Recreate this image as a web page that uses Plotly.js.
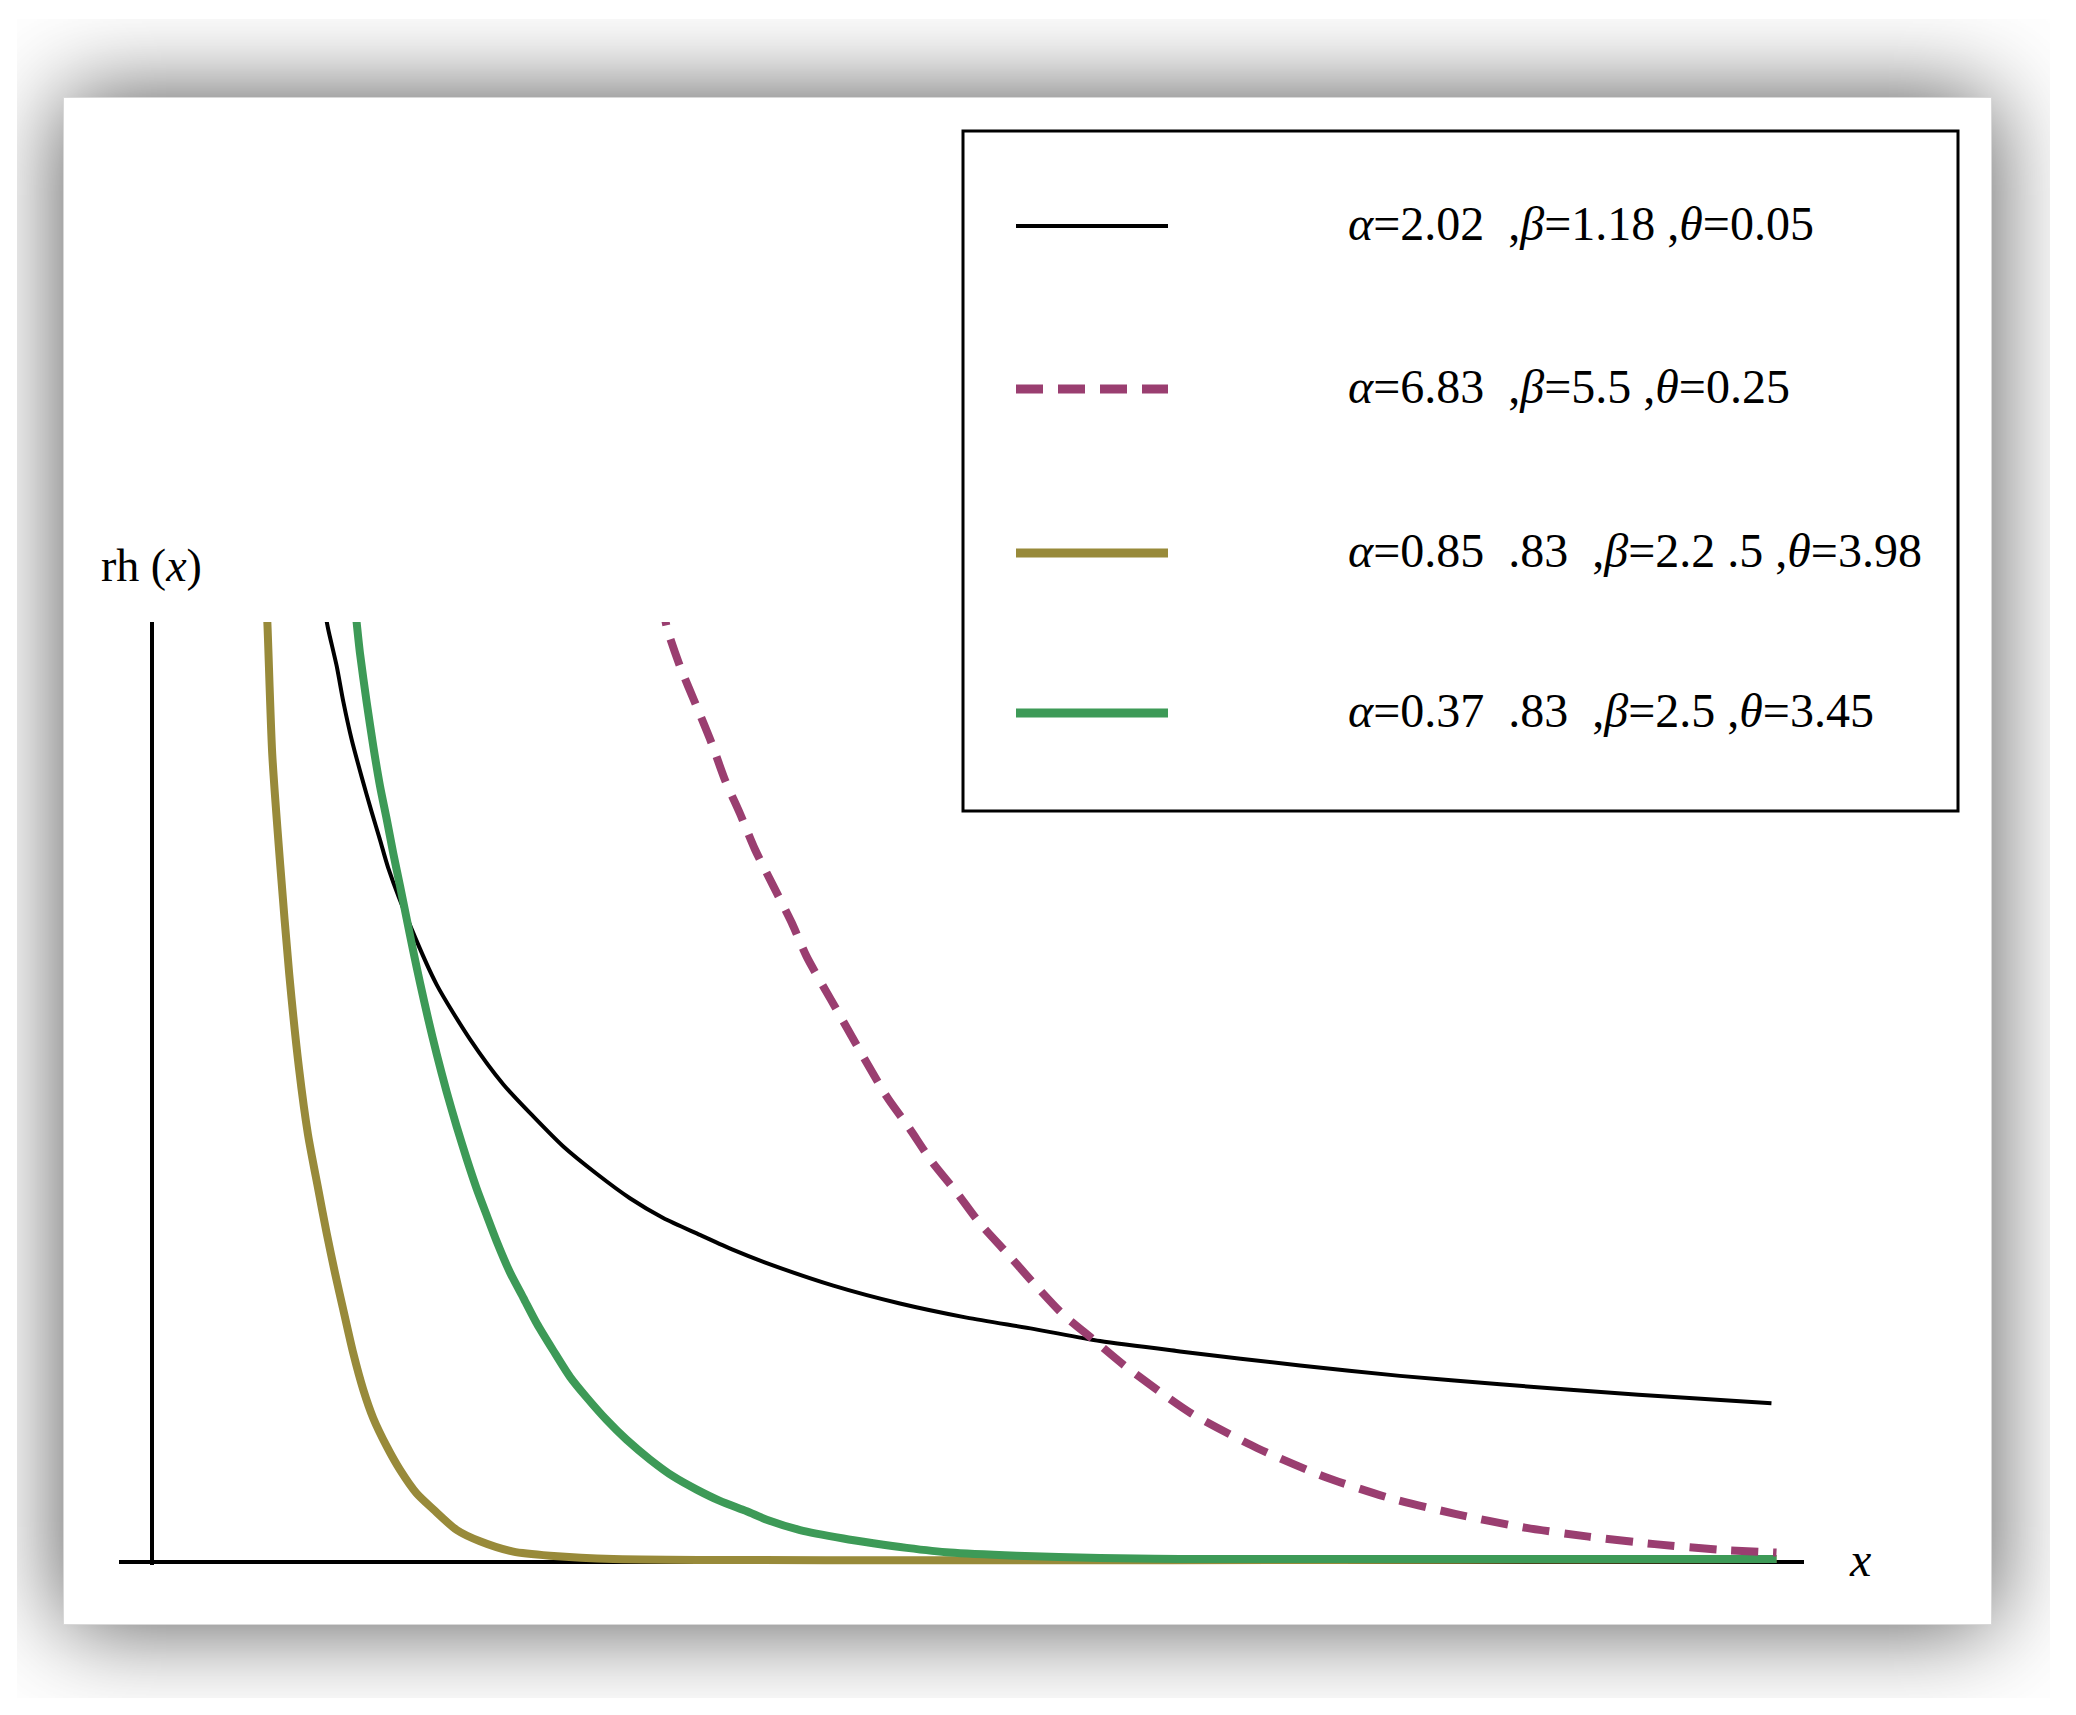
<!DOCTYPE html>
<html>
<head>
<meta charset="utf-8">
<script src="https://cdn.plot.ly/plotly-3.0.1.min.js"></script>
<style>
  html, body { margin: 0; padding: 0; background: #ffffff; }
  #frame { position: absolute; left: 17px; top: 19px; width: 2033px; height: 1679px; overflow: hidden; background: #ffffff; }
  #page { position: absolute; left: 46px; top: 78px; width: 1929px; height: 1528px; background: #ffffff;
          box-shadow: 0 0 90px rgba(0,0,0,0.68); border: 1px solid #d8d8d8; box-sizing: border-box; }
  #chart { position: absolute; left: 0; top: 0; width: 2076px; height: 1715px; }
</style>
</head>
<body>
<div id="frame"><div id="page"></div></div>
<div id="chart"></div>
<script>
// ---- data ----
var seriesNames = ["α=2.02 ,β=1.18 ,θ=0.05", "α=6.83 ,β=5.5 ,θ=0.25", "α=0.85 .83 ,β=2.2 .5 ,θ=3.98", "α=0.37 .83 ,β=2.5 ,θ=3.45"];
var legendLabels = [
  "<i>α</i>=2.02&nbsp;&nbsp;,<i>β</i>=1.18&nbsp;,<i>θ</i>=0.05",
  "<i>α</i>=6.83&nbsp;&nbsp;,<i>β</i>=5.5&nbsp;,<i>θ</i>=0.25",
  "<i>α</i>=0.85&nbsp;&nbsp;.83&nbsp;&nbsp;,<i>β</i>=2.2&nbsp;.5&nbsp;,<i>θ</i>=3.98",
  "<i>α</i>=0.37&nbsp;&nbsp;.83&nbsp;&nbsp;,<i>β</i>=2.5&nbsp;,<i>θ</i>=3.45"
];
var yAxisLabel = "rh (<i>x</i>)";
var xAxisLabel = "<i>x</i>";

var xBlack = [1.060, 1.085, 1.137, 1.178, 1.229, 1.291, 1.352, 1.404, 1.455, 1.599, 1.753, 1.958, 2.163, 2.347, 2.532, 2.737, 2.942, 3.147, 3.373, 3.578, 3.784, 4.194, 4.604, 5.015, 5.425, 5.836, 6.328, 7.067, 7.682, 8.298, 9.150, 9.969];
var yBlack = [10.15, 9.92, 9.53, 9.15, 8.75, 8.35, 7.98, 7.68, 7.38, 6.73, 6.14, 5.56, 5.08, 4.74, 4.42, 4.13, 3.87, 3.66, 3.48, 3.32, 3.18, 2.94, 2.75, 2.60, 2.48, 2.35, 2.24, 2.09, 1.98, 1.89, 1.78, 1.69];

var xPurple = [3.140, 3.168, 3.250, 3.353, 3.445, 3.527, 3.620, 3.712, 3.825, 3.938, 4.030, 4.180, 4.523, 4.656, 4.800, 4.954, 5.093, 5.261, 5.425, 5.610, 5.785, 5.979, 6.205, 6.398, 6.805, 7.213, 7.620, 8.028, 8.435, 8.843, 9.250, 9.658, 10.0];
var yPurple = [10.25, 9.95, 9.53, 9.10, 8.71, 8.32, 7.96, 7.58, 7.19, 6.80, 6.44, 5.98, 4.95, 4.63, 4.26, 3.93, 3.61, 3.29, 2.97, 2.63, 2.38, 2.10, 1.81, 1.58, 1.21, 0.91, 0.68, 0.51, 0.37, 0.27, 0.19, 0.13, 0.10];

var xOlive = [0.700, 0.710, 0.740, 0.790, 0.845, 0.905, 0.960, 1.024, 1.075, 1.127, 1.178, 1.239, 1.301, 1.362, 1.445, 1.527, 1.629, 1.732, 1.876, 2.019, 2.224, 2.450, 2.840, 10.0];
var yOlive = [10.30, 10.0, 8.6, 7.4, 6.25, 5.25, 4.55, 3.96, 3.50, 3.07, 2.68, 2.22, 1.83, 1.53, 1.23, 0.98, 0.73, 0.56, 0.34, 0.22, 0.11, 0.067, 0.032, 0.032];

var xGreen = [1.245, 1.260, 1.280, 1.322, 1.362, 1.404, 1.445, 1.485, 1.527, 1.568, 1.608, 1.650, 1.701, 1.753, 1.814, 1.876, 1.937, 1.999, 2.060, 2.122, 2.204, 2.286, 2.368, 2.470, 2.573, 2.676, 2.799, 2.922, 3.066, 3.209, 3.353, 3.496, 3.661, 3.784, 3.989, 4.256, 4.440, 4.646, 4.912, 5.323, 5.836, 6.328, 10.0];
var yGreen = [10.24, 9.99, 9.67, 9.14, 8.68, 8.25, 7.90, 7.54, 7.19, 6.84, 6.50, 6.16, 5.77, 5.40, 5.00, 4.63, 4.29, 3.97, 3.69, 3.41, 3.08, 2.81, 2.54, 2.25, 1.97, 1.75, 1.51, 1.30, 1.09, 0.91, 0.77, 0.65, 0.54, 0.45, 0.34, 0.25, 0.20, 0.15, 0.10, 0.067, 0.043, 0.032, 0.032];

// ---- styling ----
var colors = ["#000000", "#9A3E70", "#988A3A", "#3D9A57"];
var widths = [4, 8, 8, 8];
var dashes = ["solid", "27px,15px", "solid", "solid"];

var W = 2076, H = 1715;
var L = 119, R = 272, T = 622, B = 150;
var plotW = W - L - R, plotH = H - T - B;
function px2x(px) { return (px - L) / plotW; }
function py2y(py) { return (H - B - py) / plotH; }

var serif = "Liberation Serif, Times New Roman, serif";

function mk(i, xs, ys) {
  return {
    x: xs, y: ys, type: "scatter", mode: "lines", name: seriesNames[i],
    line: { color: colors[i], width: widths[i], dash: dashes[i], shape: "spline", smoothing: 0.7 },
    hoverinfo: "skip", showlegend: false
  };
}
// drawing order: black, olive, green, purple on top
var traces = [mk(0, xBlack, yBlack), mk(2, xOlive, yOlive), mk(3, xGreen, yGreen), mk(1, xPurple, yPurple)];

var rowY = [226, 389, 553, 713];
var shapes = [{
  type: "rect", xref: "paper", yref: "paper",
  x0: px2x(963), x1: px2x(1958), y0: py2y(811), y1: py2y(131),
  line: { color: "#000000", width: 3 }, fillcolor: "rgba(0,0,0,0)"
}];
var annotations = [];
for (var i = 0; i < 4; i++) {
  shapes.push({
    type: "line", xref: "paper", yref: "paper",
    x0: px2x(1016), x1: px2x(1168), y0: py2y(rowY[i]), y1: py2y(rowY[i]),
    line: { color: colors[i], width: widths[i] + (i === 0 ? 0 : 1), dash: dashes[i] }
  });
  annotations.push({
    xref: "paper", yref: "paper", x: px2x(1346), y: py2y(rowY[i] - 3),
    xanchor: "left", yanchor: "middle", showarrow: false, text: legendLabels[i],
    font: { family: serif, size: 48, color: "#000000" }
  });
}
annotations.push({
  xref: "paper", yref: "paper", x: px2x(151), y: py2y(565), xanchor: "center", yanchor: "middle",
  showarrow: false, text: yAxisLabel, font: { family: serif, size: 46, color: "#000000" }
});
annotations.push({
  xref: "paper", yref: "paper", x: px2x(1860), y: py2y(1559), xanchor: "center", yanchor: "middle",
  showarrow: false, text: xAxisLabel, font: { family: serif, size: 48, color: "#000000" }
});

var xPerPx = 1 / 162.45;
var xmin = (L - 152) * xPerPx;
var xmax = xmin + plotW * xPerPx;
var yPerPx = 10 / 940;
var ymin = -(plotH - 940) * yPerPx;

var layout = {
  width: W, height: H,
  margin: { l: L, r: R, t: T, b: B, pad: 0 },
  paper_bgcolor: "rgba(0,0,0,0)", plot_bgcolor: "rgba(0,0,0,0)",
  showlegend: false,
  xaxis: { range: [xmin, xmax], showgrid: false, showticklabels: false, ticks: "", showline: false,
           zeroline: true, zerolinecolor: "#000000", zerolinewidth: 4, fixedrange: true },
  yaxis: { range: [ymin, 10], showgrid: false, showticklabels: false, ticks: "", showline: false,
           zeroline: true, zerolinecolor: "#000000", zerolinewidth: 4, fixedrange: true },
  shapes: shapes,
  annotations: annotations,
  font: { family: serif }
};

Plotly.newPlot("chart", traces, layout, { staticPlot: true, displayModeBar: false });
</script>
</body>
</html>
